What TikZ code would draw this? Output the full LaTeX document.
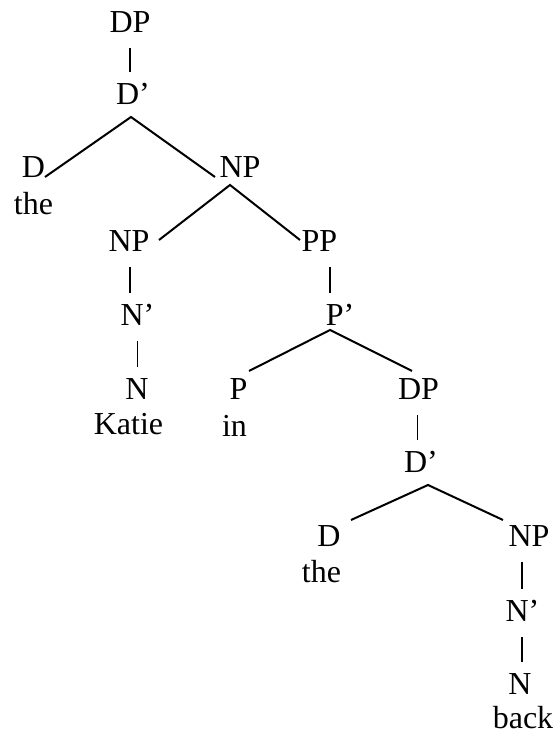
\documentclass[tikz,border=0pt]{standalone}
\usepackage{fontspec}
\setmainfont{Liberation Serif}

\begin{document}
\begin{tikzpicture}[x=1pt, y=1pt,
    lbl/.style={inner sep=0pt, anchor=base, font=\fontsize{32}{38}\selectfont},
    branch/.style={line width=2pt},
    bar/.style={line width=1.2pt}]
    \useasboundingbox (0,0) rectangle (558,736);
    \node[lbl] (dp1) at (130,703) {DP};
    \node[lbl] (dbar1) at (133,631) {D'};
    \node[lbl] (d1) at (33.5,558) {D};
    \node[lbl] (wthe1) at (33.5,521) {the};
    \node[lbl] (np1) at (240,558) {NP};
    \node[lbl] (np2) at (129,484) {NP};
    \node[lbl] (pp) at (319.5,484) {PP};
    \node[lbl] (nbar2) at (137.5,410) {N'};
    \node[lbl] (n2) at (137,336) {N};
    \node[lbl] (wkatie) at (128.5,301) {Katie};
    \node[lbl] (pbar) at (340,410) {P'};
    \node[lbl] (p) at (238.5,336) {P};
    \node[lbl] (win) at (234.5,299) {in};
    \node[lbl] (dp2) at (418.5,336) {DP};
    \node[lbl] (dbar2) at (421,263) {D'};
    \node[lbl] (d3) at (329,189) {D};
    \node[lbl] (wthe3) at (321.5,153) {the};
    \node[lbl] (np3) at (529,189) {NP};
    \node[lbl] (nbar3) at (522.5,114) {N'};
    \node[lbl] (n3) at (520,41) {N};
    \node[lbl] (wback) at (523,7) {back};

    \draw[bar] ([yshift=-15pt]dp1.base) -- ([xshift=-3pt,yshift=33pt]dbar1.base);
    \draw[bar] ([xshift=1pt,yshift=-15pt]np2.base) -- ([xshift=-7.5pt,yshift=33pt]nbar2.base);
    \draw[bar] ([yshift=-15pt]nbar2.base) -- ([xshift=0.5pt,yshift=33pt]n2.base);
    \draw[bar] ([xshift=10.5pt,yshift=-15pt]pp.base) -- ([xshift=-10pt,yshift=33pt]pbar.base);
    \draw[bar] ([xshift=-1pt,yshift=-15pt]dp2.base) -- ([xshift=-3.5pt,yshift=33pt]dbar2.base);
    \draw[bar] ([xshift=-7pt,yshift=-15pt]np3.base) -- ([xshift=-0.5pt,yshift=33pt]nbar3.base);
    \draw[bar] ([xshift=-0.5pt,yshift=-15pt]nbar3.base) -- ([xshift=2pt,yshift=33pt]n3.base);

    \draw[branch] ([xshift=11.5pt,yshift=1pt]d1.base) -- ([xshift=-2pt,yshift=-12pt]dbar1.base) -- ([xshift=-25pt,yshift=1pt]np1.base);
    \draw[branch] ([xshift=30pt,yshift=12pt]np2.base) -- ([xshift=-10pt,yshift=-7pt]np1.base) -- ([xshift=-19.5pt,yshift=12pt]pp.base);
    \draw[branch] ([xshift=10.5pt,yshift=29pt]p.base) -- ([xshift=-10pt,yshift=-4pt]pbar.base) -- ([xshift=-6.5pt,yshift=29pt]dp2.base);
    \draw[branch] ([xshift=22pt,yshift=27pt]d3.base) -- ([xshift=7pt,yshift=-12pt]dbar2.base) -- ([xshift=-26pt,yshift=27pt]np3.base);
\end{tikzpicture}
\end{document}
